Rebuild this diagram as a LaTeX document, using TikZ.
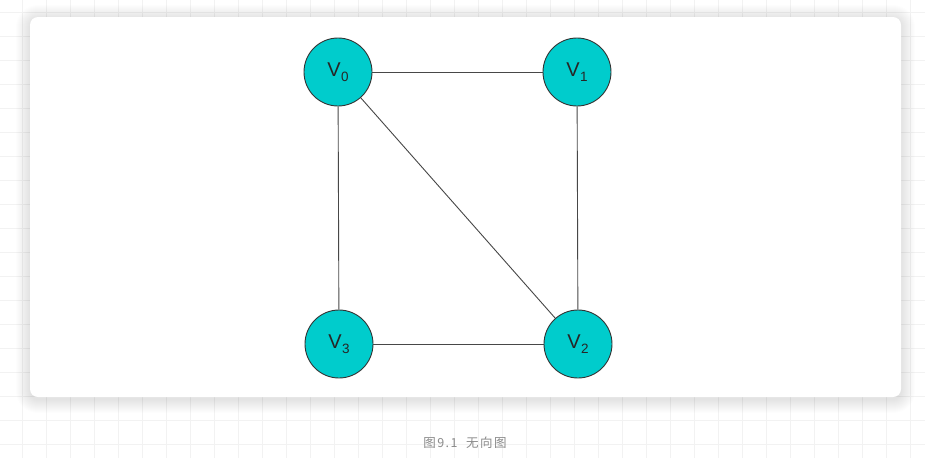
\documentclass[tikz,border=0pt]{standalone}
\usepackage{fontspec}
\setmainfont{Liberation Sans}
\newfontfamily\cjk[LetterSpace=12]{Noto Sans CJK SC}
\definecolor{vfill}{HTML}{00CCCC}
\definecolor{vline}{HTML}{333333}
\definecolor{gridc}{HTML}{F2F2F2}
\definecolor{capc}{HTML}{8A8A8A}
\newcommand{\vlab}[1]{V\kern0.3pt\raisebox{-4.5pt}{\fontsize{13.5}{13.5}\selectfont #1}}
\tikzset{
  vertex/.style={circle, draw=vline, line width=0.9pt, fill=vfill, minimum size=68pt, inner sep=0pt, font=\fontsize{20}{20}\selectfont, text=black!85},
  edge/.style={draw=vline!90, line width=0.9pt}
}
\begin{document}
\begin{tikzpicture}[x=1pt,y=-1pt]
\useasboundingbox (0,0) rectangle (925,458);
\fill[white] (0,0) rectangle (925,458);
\foreach \gx in {22,46,...,925} \draw[gridc, line width=0.8pt] (\gx,0) -- (\gx,458);
\foreach \gy in {12,36,...,458} \draw[gridc, line width=0.8pt] (0,\gy) -- (925,\gy);
\foreach \i in {1,...,14} {
  \pgfmathsetmacro{\rr}{8+\i}
  \fill[black, opacity=0.007, rounded corners=\rr pt] ({30-\i},{19-\i}) rectangle ({901+\i},{399+\i});
}
\fill[white, rounded corners=8pt] (30,17) rectangle (901,397);
\node[vertex] (v0) at (338,72) {\vlab{0}};
\node[vertex] (v1) at (577,72) {\vlab{1}};
\node[vertex] (v2) at (578,344) {\vlab{2}};
\node[vertex] (v3) at (339,344) {\vlab{3}};
\draw[edge] (v0) -- (v1);
\draw[edge] (v0) -- (v3);
\draw[edge] (v1) -- (v2);
\draw[edge] (v0) -- (v2);
\draw[edge] (v3) -- (v2);
\node[text=capc, font=\cjk\fontsize{12.5}{12.5}\selectfont] (cap) at (465,443) {图9.1\ \ 无向图};
\end{tikzpicture}
\end{document}
